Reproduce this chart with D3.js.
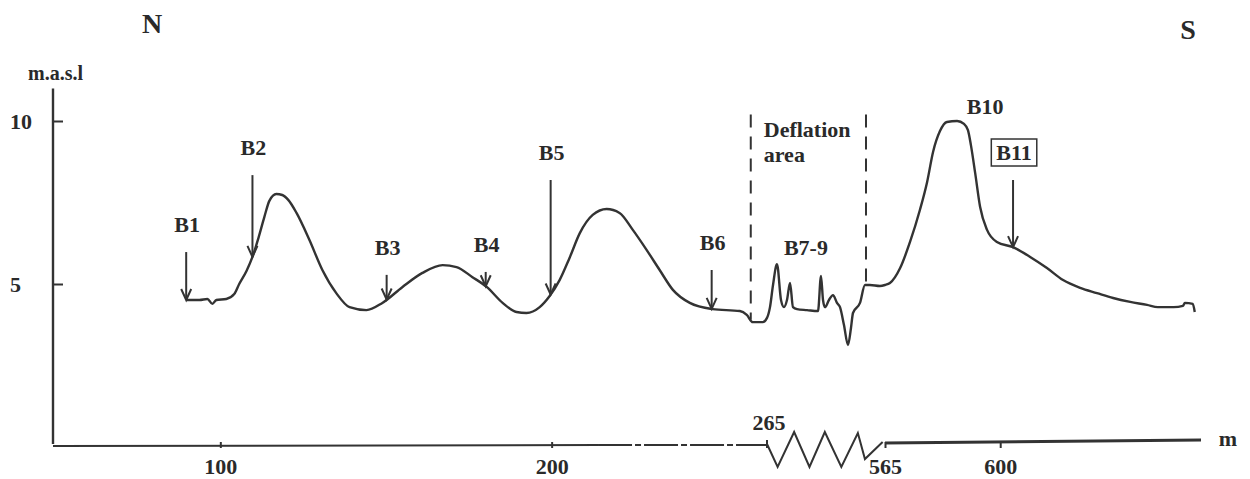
<!DOCTYPE html>
<html>
<head>
<meta charset="utf-8">
<script src="https://cdn.jsdelivr.net/npm/d3@7"></script>
<style>
  body { margin: 0; background: #fff; }
  svg { display: block; font-family: 'Liberation Serif', 'Times New Roman', serif; font-weight: bold; }
</style>
</head>
<body>
<svg id="profile"></svg>
<script>
// profile: distance (m) and elevation (m.a.s.l)
const distance = [
  89.7, 93.7, 96.1, 97.6, 98.8, 101.8, 104.2, 105.7, 107.9, 109.7, 111.5, 113.3, 114.8, 116.9, 118.7, 120.5,
  123.0, 126.9, 130.8, 135.0, 139.0, 144.1, 148.9, 155.0, 161.0, 167.1, 171.3, 176.1, 180.4, 185.2, 189.4,
  192.4, 196.4, 199.4, 202.4, 205.4, 208.5, 212.4, 216.6, 220.5, 224.5, 228.7, 232.6, 236.6, 241.7, 248.6,
  256.8, 258.9, 260.7, 263.7, 265.0,
  272.6, 280.3, 290.4, 300.6, 308.2, 315.8, 323.5, 331.1, 341.3, 366.7, 394.6, 402.3, 407.4, 412.4, 422.6,
  432.8, 442.9, 450.6, 460.7, 470.9, 478.5, 483.6, 501.4, 514.1, 526.8, 552.2, 565.0,
  566.5, 569.6, 572.6, 575.6, 577.8, 579.6, 581.7, 583.8, 586.9, 589.0, 590.2, 591.1, 592.4, 593.9, 596.0,
  599.0, 603.9, 609.1, 614.2, 619.1, 624.3, 629.4, 634.3, 639.5, 644.6, 647.9, 652.7, 655.5, 656.1, 658.5, 659.1
]
const elevation = [
  4.51, 4.51, 4.54, 4.39, 4.51, 4.54, 4.69, 5.00, 5.40, 5.83, 6.41, 7.06, 7.55, 7.76, 7.73, 7.58,
  7.18, 6.35, 5.43, 4.72, 4.29, 4.20, 4.42, 4.91, 5.34, 5.58, 5.52, 5.21, 4.91, 4.42, 4.14,
  4.11, 4.29, 4.63, 5.12, 5.80, 6.56, 7.12, 7.30, 7.18, 6.66, 6.04, 5.43, 4.82, 4.42, 4.23,
  4.17, 4.05, 3.83, 3.83, 3.96,
  4.29, 4.97, 5.61, 4.51, 4.29, 4.51, 5.03, 4.29, 4.23, 4.20, 4.17, 5.25, 4.51, 4.29, 4.51,
  4.66, 4.42, 4.29, 3.74, 3.13, 3.65, 4.11, 4.42, 4.97, 4.97, 4.94, 4.97,
  5.03, 5.49, 6.29, 7.27, 8.13, 9.05, 9.69, 9.97, 10.00, 9.91, 9.72, 9.26, 8.40, 7.36, 6.66,
  6.29, 6.13, 5.83, 5.49, 5.12, 4.88, 4.72, 4.57, 4.45, 4.36, 4.29, 4.29, 4.33, 4.42, 4.39, 4.14
]

const boreholes = ['B1', 'B2', 'B3', 'B4', 'B5', 'B6', 'B11']
const boreholeX = [89.7, 109.7, 150.2, 180.1, 199.7, 248.3, 603.9]
const arrowTop = [5.98, 8.34, 5.28, 5.37, 8.19, 5.43, 8.19]
const boxedBorehole = 'B11'

const notes = ['B7-9', 'B10']
const noteX = [364, 595.4]
const noteY = [5.9, 10.2]

const deflationX = [260.1, 516.7]
const deflationText = ['Deflation', 'area']

const xTicks = [100, 200, 565, 600]
const breakStart = 265
const breakEnd = 565
const yTicks = [5, 10]

const SVG_WIDTH = 1250
const SVG_HEIGHT = 479
const AXIS_Y = 444
const INK = '#333'
const TEXT = '#2a2a2a'

const svg = d3.select('#profile')
  .attr('width', SVG_WIDTH)
  .attr('height', SVG_HEIGHT)

// broken distance axis: 265 -> 565 squeezed into the zigzag
const xScale = d3.scaleLinear()
  .domain([49.5, breakStart, breakEnd, 661])
  .range([53, 767, 885, 1201])

const yScale = d3.scaleLinear()
  .domain([0, 11])
  .range([447, 88.4])

function elevationAt(x) {
  const i = Math.min(Math.max(d3.bisectLeft(distance, x), 1), distance.length - 1)
  const x0 = distance[i - 1], x1 = distance[i]
  const t = (x - x0) / (x1 - x0)
  return elevation[i - 1] + t * (elevation[i] - elevation[i - 1])
}

function drawAxes() {
  // y axis
  svg.append('line')
    .attr('x1', 53).attr('x2', 53)
    .attr('y1', AXIS_Y).attr('y2', yScale(11))
    .attr('stroke', INK).attr('stroke-width', 2.4)

  const yAxis = d3.axisLeft(yScale).tickValues(yTicks).tickSizeInner(-10).tickSizeOuter(0)
  const gy = svg.append('g').attr('transform', 'translate(53,0)').call(yAxis)
  gy.attr('font-family', null).attr('font-size', null)
  gy.select('.domain').remove()
  gy.selectAll('line').attr('stroke', INK).attr('stroke-width', 2)
  gy.selectAll('text')
    .attr('x', -43).attr('text-anchor', 'start')
    .attr('font-size', 22).attr('fill', TEXT)

  svg.append('text')
    .attr('x', 28).attr('y', 80)
    .attr('font-size', 20).attr('fill', TEXT)
    .text('m.a.s.l')

  // x axis pieces
  svg.append('line')
    .attr('x1', 53).attr('x2', xScale(214))
    .attr('y1', AXIS_Y + 2).attr('y2', AXIS_Y + 1)
    .attr('stroke', INK).attr('stroke-width', 2)
  svg.append('line')
    .attr('x1', xScale(214)).attr('x2', xScale(breakStart))
    .attr('y1', AXIS_Y + 1).attr('y2', AXIS_Y + 1)
    .attr('stroke', INK).attr('stroke-width', 2)
    .attr('stroke-dasharray', '34,3,6,3')

  const xa = xScale(breakStart), xb = xScale(breakEnd), w = xb - xa
  const zig = [[0, 0], [0.09, 23], [0.23, -12], [0.36, 23], [0.49, -12], [0.63, 23], [0.77, -11], [0.83, 15], [0.98, -2]]
  svg.append('path')
    .attr('d', d3.line()(zig.map(p => [xa + p[0] * w, AXIS_Y + p[1]])))
    .attr('fill', 'none').attr('stroke', INK).attr('stroke-width', 2)

  svg.append('line')
    .attr('x1', xb).attr('x2', xScale(661))
    .attr('y1', AXIS_Y - 1).attr('y2', AXIS_Y - 4)
    .attr('stroke', INK).attr('stroke-width', 3)

  const xAxis = d3.axisBottom(xScale)
    .tickValues(xTicks).tickSizeInner(6).tickSizeOuter(0).tickPadding(10)
    .tickFormat(d3.format('d'))
  const gx = svg.append('g').attr('transform', `translate(0,${AXIS_Y - 2})`).call(xAxis)
  gx.attr('font-family', null).attr('font-size', null)
  gx.select('.domain').remove()
  gx.selectAll('line').attr('stroke', INK).attr('stroke-width', 2)
  gx.selectAll('text').attr('font-size', 22).attr('fill', TEXT)

  svg.append('line')
    .attr('x1', xa).attr('x2', xa).attr('y1', AXIS_Y - 4).attr('y2', AXIS_Y + 4)
    .attr('stroke', INK).attr('stroke-width', 2)
  svg.append('text')
    .attr('x', xa + 2).attr('y', 430)
    .attr('text-anchor', 'middle').attr('font-size', 22).attr('fill', TEXT)
    .text(breakStart)

  svg.append('text')
    .attr('x', 1228).attr('y', 446)
    .attr('text-anchor', 'middle').attr('font-size', 22).attr('fill', TEXT)
    .text('m')

  svg.append('text').attr('x', 152).attr('y', 33)
    .attr('text-anchor', 'middle').attr('font-size', 28).attr('fill', TEXT).text('N')
  svg.append('text').attr('x', 1188).attr('y', 39)
    .attr('text-anchor', 'middle').attr('font-size', 28).attr('fill', TEXT).text('S')
}

function drawDeflation() {
  deflationX.forEach(d => {
    svg.append('line')
      .attr('x1', xScale(d)).attr('x2', xScale(d))
      .attr('y1', yScale(10.2)).attr('y2', yScale(elevationAt(d)))
      .attr('stroke', INK).attr('stroke-width', 2)
      .attr('stroke-dasharray', '13,9')
  })
  svg.append('text')
    .attr('x', xScale(deflationX[0]) + 13).attr('y', yScale(10.2) + 23)
    .attr('font-size', 22).attr('fill', TEXT)
    .selectAll('tspan')
    .data(deflationText)
    .enter()
    .append('tspan')
    .attr('x', xScale(deflationX[0]) + 13)
    .attr('dy', (d, i) => i ? 25 : 0)
    .text(d => d)
}

function drawProfile() {
  const line = d3.line()
    .x((d, i) => xScale(distance[i]))
    .y(d => yScale(d))
    .curve(d3.curveMonotoneX)

  svg.append('path')
    .datum(elevation)
    .attr('d', line)
    .attr('fill', 'none')
    .attr('stroke', INK)
    .attr('stroke-width', 2.4)
    .attr('stroke-linejoin', 'round')
}

function drawBoreholes() {
  boreholes.forEach((name, i) => {
    const x = xScale(boreholeX[i])
    const top = yScale(arrowTop[i])
    const bottom = yScale(elevationAt(boreholeX[i]))

    svg.append('line')
      .attr('x1', x).attr('x2', x).attr('y1', top).attr('y2', bottom)
      .attr('stroke', INK).attr('stroke-width', 2)
    svg.append('path')
      .attr('d', `M${x - 5},${bottom - 11}L${x},${bottom}L${x + 5},${bottom - 11}`)
      .attr('fill', 'none').attr('stroke', INK).attr('stroke-width', 2)

    const label = svg.append('text')
      .attr('x', x + 1).attr('y', top - 20)
      .attr('text-anchor', 'middle').attr('font-size', 22).attr('fill', TEXT)
      .text(name)

    if (name === boxedBorehole) {
      const b = label.node().getBBox()
      svg.append('rect')
        .attr('x', b.x - 5).attr('y', b.y - 1)
        .attr('width', b.width + 10).attr('height', b.height + 2)
        .attr('fill', 'none').attr('stroke', INK).attr('stroke-width', 1.5)
    }
  })

  notes.forEach((name, i) => {
    svg.append('text')
      .attr('x', xScale(noteX[i])).attr('y', yScale(noteY[i]))
      .attr('text-anchor', 'middle').attr('font-size', 22).attr('fill', TEXT)
      .text(name)
  })
}

drawAxes()
drawDeflation()
drawProfile()
drawBoreholes()
</script>
</body>
</html>
